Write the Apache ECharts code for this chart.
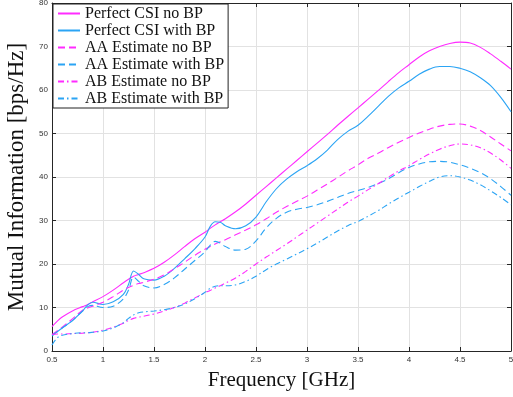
<!DOCTYPE html>
<html><head><meta charset="utf-8">
<script src="https://cdn.jsdelivr.net/npm/echarts@6/dist/echarts.min.js"></script>
<style>html,body{margin:0;padding:0;background:#fff}#c{width:513px;height:397px}</style>
</head><body><div id="c"></div>
<script>
const freq = [0.5,0.55,0.6,0.7,0.8,0.85,0.9,1.0,1.1,1.2,1.25,1.3,1.35,1.4,1.5,1.6,1.7,1.8,1.9,2.0,2.05,2.1,2.15,2.2,2.3,2.4,2.5,2.6,2.7,2.8,2.9,3.0,3.1,3.2,3.3,3.4,3.5,3.6,3.7,3.8,3.9,4.0,4.1,4.2,4.3,4.4,4.5,4.6,4.7,4.8,4.9,5.0];
const perfectNoBP = [5.6,6.8,7.8,9.2,10.2,10.7,11.3,12.5,14.0,15.7,16.5,17.2,17.6,18.0,19.0,20.4,22.1,24.0,25.8,27.3,28.2,29.0,29.7,30.4,32.0,33.8,35.8,37.8,39.8,41.8,43.8,45.8,47.8,49.8,51.9,53.9,55.9,57.9,59.9,62.0,64.0,65.8,67.6,69.0,70.0,70.7,71.0,70.8,69.8,68.3,66.6,64.8];
const perfectBP = [3.4,4.4,5.3,7.0,9.2,10.6,11.2,10.7,11.3,13.0,15.3,18.4,17.6,16.6,16.3,17.2,19.0,21.2,23.5,26.2,28.6,29.7,29.6,28.8,28.1,28.8,30.8,34.3,37.3,39.5,41.2,42.6,44.2,46.2,48.6,50.5,51.9,54.0,56.3,58.6,60.5,62.0,63.6,64.8,65.4,65.4,65.0,64.2,62.8,61.0,58.3,55.0];
const aaNoBP = [3.8,4.6,5.5,7.4,9.4,9.9,10.3,11.2,12.5,14.0,14.6,15.1,15.5,15.8,16.5,17.5,18.9,20.4,22.0,23.4,24.0,24.6,25.1,25.6,26.7,27.8,29.0,30.4,31.9,33.2,34.4,35.6,37.0,38.4,39.9,41.4,42.8,44.3,45.5,46.8,48.0,49.1,50.1,51.0,51.7,52.1,52.2,51.7,50.7,49.2,47.6,46.0];
const aaBP = [3.7,4.4,5.3,7.0,9.2,10.2,10.5,10.0,10.3,12.0,14.0,17.0,16.0,15.0,14.5,15.3,16.8,18.8,20.8,22.8,24.3,25.2,24.8,24.0,23.2,23.4,25.3,28.3,30.5,31.9,32.6,33.0,33.6,34.4,35.3,36.2,36.9,37.6,38.5,39.6,41.0,42.2,43.0,43.5,43.6,43.4,42.8,42.0,41.0,39.6,37.8,35.8];
const abNoBP = [3.8,3.9,3.9,4.0,4.1,4.2,4.3,4.8,5.5,6.4,7.0,7.5,7.8,8.0,8.5,9.2,10.0,11.0,12.2,13.4,13.9,14.5,15.0,15.6,16.8,18.3,20.0,21.6,23.1,24.6,26.2,27.8,29.4,31.0,32.6,34.2,35.6,37.1,38.5,40.0,41.4,42.6,44.0,45.3,46.4,47.2,47.6,47.4,46.7,45.5,43.9,42.0];
const abBP = [1.4,3.0,3.6,4.0,4.2,4.2,4.3,4.6,5.3,6.5,7.5,8.3,8.8,9.0,9.2,9.5,10.0,10.8,12.0,13.5,14.4,14.9,15.0,15.0,15.2,16.0,17.2,18.7,20.0,21.1,22.3,23.5,24.8,26.2,27.6,28.8,29.8,31.0,32.3,33.8,35.2,36.5,37.8,39.0,40.0,40.3,40.0,39.3,38.2,36.8,35.3,33.6];
const seriesNames = ['Perfect CSI no BP','Perfect CSI with BP','AA Estimate no BP','AA Estimate with BP','AB Estimate no BP','AB Estimate with BP'];
const xTicks = [0.5,1,1.5,2,2.5,3,3.5,4,4.5,5];
const yTicks = [0,10,20,30,40,50,60,70,80];

const MAG = '#ff2bff', BLU = '#2ba4f4';
const styles = [
  {c:MAG,t:'solid'},{c:BLU,t:'solid'},
  {c:MAG,t:[7,4]},{c:BLU,t:[7,4]},
  {c:MAG,t:[6,3,1.5,3]},{c:BLU,t:[6,3,1.5,3]}
];
const vals = [perfectNoBP,perfectBP,aaNoBP,aaBP,abNoBP,abBP];
const serif = 'Liberation Serif';
const axisCol = '#262626';
const labelStyle = {color:'#333', fontSize:8, fontFamily:'Liberation Sans'};

const chart = echarts.init(document.getElementById('c'), null, {renderer:'canvas'});
chart.setOption({
  animation:false,
  backgroundColor:'#fff',
  grid:{left:52,right:2,top:3,bottom:46,containLabel:false,outerBoundsMode:'none'},
  legend:{
    show:true,
    orient:'vertical', left:53, top:4, padding:[1,4,1,4],
    backgroundColor:'#fff', borderColor:'#222', borderWidth:1,
    itemWidth:22, itemHeight:10, itemGap:0,
    itemStyle:{opacity:0},
    textStyle:{fontFamily:serif, fontSize:16, color:'#111', lineHeight:17},
    data:seriesNames
  },
  xAxis:[{
    type:'value', min:0.5, max:5, interval:0.5,
    name:'Frequency [GHz]', nameLocation:'middle', nameGap:19,
    nameTextStyle:{fontFamily:serif, fontSize:21, color:'#111'},
    axisLine:{show:true, onZero:false, lineStyle:{color:axisCol}},
    axisTick:{show:true, inside:true, length:4, lineStyle:{color:axisCol}},
    axisLabel:Object.assign({margin:5, formatter:v=>String(v)}, labelStyle),
    splitLine:{show:true, lineStyle:{color:'#e2e2e2', width:1}}
  },{
    type:'value', position:'top', min:0.5, max:5, interval:0.5,
    axisLine:{show:true, onZero:false, lineStyle:{color:axisCol}},
    axisTick:{show:true, inside:true, length:4, lineStyle:{color:axisCol}},
    axisLabel:{show:false}, splitLine:{show:false}
  }],
  yAxis:[{
    type:'value', min:0, max:80, interval:10,
    name:'Mutual Information [bps/Hz]', nameLocation:'middle', nameGap:17,
    nameTextStyle:{fontFamily:serif, fontSize:23, color:'#111'},
    axisLine:{show:true, onZero:false, lineStyle:{color:axisCol}},
    axisTick:{show:true, inside:true, length:4, lineStyle:{color:axisCol}},
    axisLabel:Object.assign({margin:4}, labelStyle),
    splitLine:{show:true, lineStyle:{color:'#e2e2e2', width:1}}
  },{
    type:'value', position:'right', min:0, max:80, interval:10,
    axisLine:{show:true, onZero:false, lineStyle:{color:axisCol}},
    axisTick:{show:true, inside:true, length:4, lineStyle:{color:axisCol}},
    axisLabel:{show:false}, splitLine:{show:false}
  }],
  series:seriesNames.map((n,i)=>({
    name:n, type:'line', xAxisIndex:0, yAxisIndex:0,
    data:freq.map((f,k)=>[f, vals[i][k]]),
    smooth:0.35, showSymbol:false, symbol:'none',
    lineStyle:{color:styles[i].c, width:1.1, type:styles[i].t},
    itemStyle:{color:styles[i].c}
  }))
});
</script></body></html>
